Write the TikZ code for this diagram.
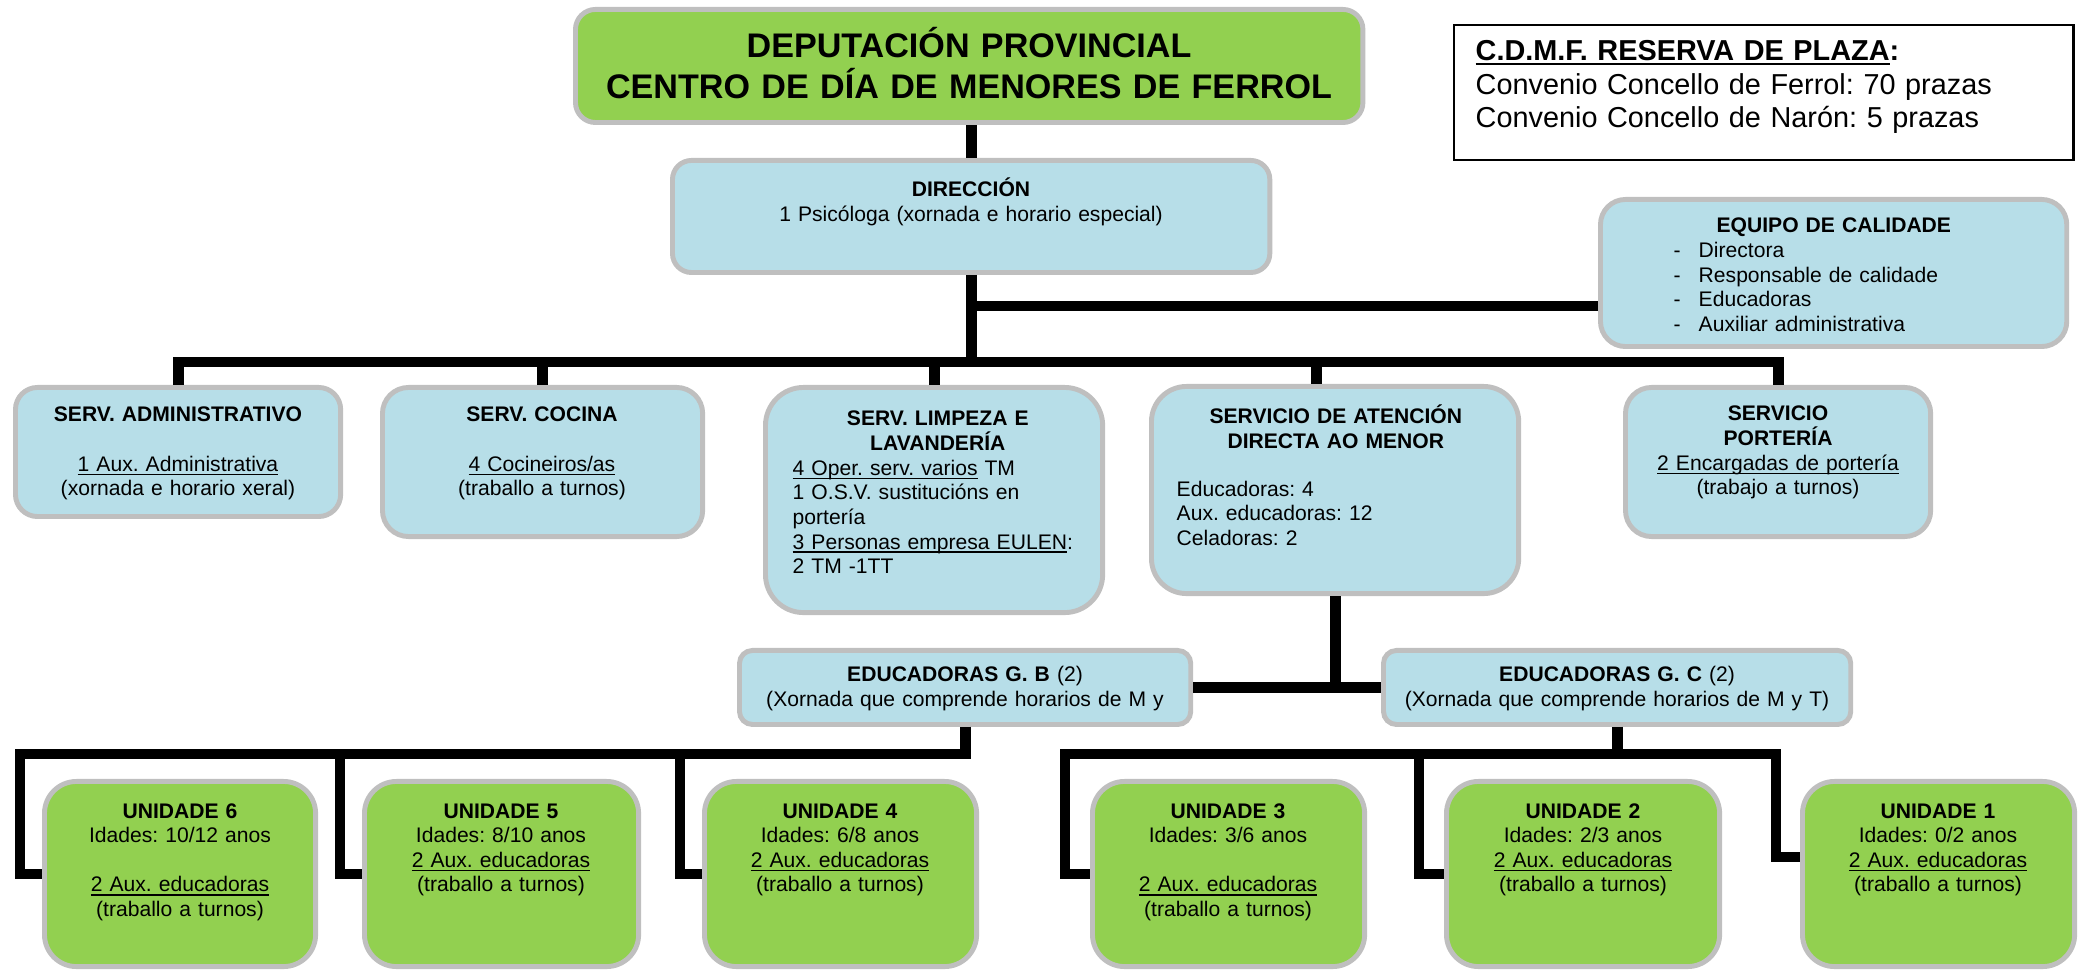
\documentclass[tikz,border=0pt]{standalone}
\usepackage{fontspec}
\setmainfont{Liberation Sans}
\frenchspacing
\newcommand\subl[1]{\leavevmode\setbox0\hbox{#1}\rlap{\rule[-1.1pt]{\wd0}{0.45pt}}\box0\relax}
\newcommand\medio[1]{\hspace*{\fill}#1\hspace*{\fill}\mbox{}}
\definecolor{cverde}{HTML}{92D050}
\definecolor{cazul}{HTML}{B7DEE8}
\definecolor{cgris}{HTML}{BFBFBF}
\begin{document}
\begin{tikzpicture}[x=0.01cm,y=-0.01cm]
\tikzstyle{caixa}=[draw=cgris,line width=1.4pt,anchor=north west,inner sep=0pt]
\tikzstyle{azul}=[caixa,fill=cazul]
\tikzstyle{verde}=[caixa,fill=cverde]
\tikzstyle{texto}=[inner sep=0pt,anchor=base,align=center,font=\fontsize{6}{7}\selectfont]
\tikzstyle{linea}=[line width=3.1pt,line join=miter]
\useasboundingbox (0,0) rectangle (2083,971);
%% caixas
\node at (573,7) (depu)[verde,minimum width=7.87cm,minimum height=1.13cm,rounded corners=0.2cm] {};
\node at (1453,24) (reserva)[caixa,draw=black,line width=0.6pt,fill=white,minimum width=6.19cm,minimum height=1.35cm] {};
\node at (670,158) (dir)[azul,minimum width=5.97cm,minimum height=1.12cm,rounded corners=0.19cm] {};
\node at (1598,197) (cal)[azul,minimum width=4.66cm,minimum height=1.47cm,rounded corners=0.25cm] {};
\node at (13,385) (adm)[azul,minimum width=3.25cm,minimum height=1.29cm,rounded corners=0.22cm] {};
\node at (380,385) (coc)[azul,minimum width=3.20cm,minimum height=1.49cm,rounded corners=0.26cm] {};
\node at (763,385) (limp)[azul,minimum width=3.37cm,minimum height=2.25cm,rounded corners=0.38cm] {};
\node at (1149,384) (aten)[azul,minimum width=3.67cm,minimum height=2.07cm,rounded corners=0.35cm] {};
\node at (1623,385) (port)[azul,minimum width=3.05cm,minimum height=1.49cm,rounded corners=0.26cm] {};
\node at (737,648) (gb)[azul,minimum width=4.51cm,minimum height=0.74cm,rounded corners=0.13cm] {};
\node at (1381,648) (gc)[azul,minimum width=4.67cm,minimum height=0.74cm,rounded corners=0.13cm] {};
\node at (42,779) (u6)[verde,minimum width=2.71cm,minimum height=1.85cm,rounded corners=0.32cm] {};
\node at (362,779) (u5)[verde,minimum width=2.74cm,minimum height=1.85cm,rounded corners=0.32cm] {};
\node at (702,779) (u4)[verde,minimum width=2.72cm,minimum height=1.85cm,rounded corners=0.32cm] {};
\node at (1090,779) (u3)[verde,minimum width=2.72cm,minimum height=1.85cm,rounded corners=0.32cm] {};
\node at (1444,779) (u2)[verde,minimum width=2.73cm,minimum height=1.85cm,rounded corners=0.32cm] {};
\node at (1800,779) (u1)[verde,minimum width=2.72cm,minimum height=1.85cm,rounded corners=0.32cm] {};
%% textos
\node at (969,58) (deput)[texto,text width=7.8cm,font=\fontsize{9.7}{11.4}\selectfont\bfseries] {DEPUTACIÓN PROVINCIAL\\CENTRO DE DÍA DE MENORES DE FERROL};
\node at (1475,61) (reservat)[texto,anchor=base west,align=left,text width=5.9cm,font=\fontsize{8.2}{9.4}\selectfont] {\textbf{\subl{C.D.M.F. RESERVA DE PLAZA}:}\\Convenio Concello de Ferrol: 70 prazas\\Convenio Concello de Narón: 5 prazas};
\node at (971,197) (dirt)[texto,text width=5.8cm] {\textbf{DIRECCIÓN}\\1 Psicóloga (xornada e horario especial)};
\node at (1673,233) (calt)[texto,anchor=base west,align=left,text width=3.2cm] {\medio{\textbf{EQUIPO DE CALIDADE}}\\\makebox[0.25cm][l]{-}Directora\\\makebox[0.25cm][l]{-}Responsable de calidade\\\makebox[0.25cm][l]{-}Educadoras\\\makebox[0.25cm][l]{-}Auxiliar administrativa};
\node at (178,422) (admt)[texto,text width=3.1cm] {\textbf{SERV. ADMINISTRATIVO}\\[7pt]\subl{1 Aux. Administrativa}\\(xornada e horario xeral)};
\node at (542,422) (coct)[texto,text width=3.0cm] {\textbf{SERV. COCINA}\\[7pt]\subl{4 Cocineiros/as}\\(traballo a turnos)};
\node at (792,426) (limpt)[texto,anchor=base west,align=left,text width=2.9cm] {\medio{\textbf{SERV. LIMPEZA E}}\\\medio{\textbf{LAVANDERÍA}}\\\subl{4 Oper. serv. varios} TM\\1 O.S.V. sustitucións en\\portería\\\subl{3 Personas empresa EULEN}:\\2 TM -1TT};
\node at (1176,424) (atent)[texto,anchor=base west,align=left,text width=3.18cm] {\medio{\textbf{SERVICIO DE ATENCIÓN}}\\\medio{\textbf{DIRECTA AO MENOR}}\\[6.5pt]Educadoras: 4\\Aux. educadoras: 12\\Celadoras: 2};
\node at (1778,421) (portt)[texto,text width=2.9cm] {\textbf{SERVICIO}\\\textbf{PORTERÍA}\\\subl{2 Encargadas de portería}\\(trabajo a turnos)};
\node at (965,682) (gbt)[texto,text width=4.4cm] {\textbf{EDUCADORAS G. B} (2)\\(Xornada que comprende horarios de M y};
\node at (1617,682) (gct)[texto,text width=4.6cm] {\textbf{EDUCADORAS G. C} (2)\\(Xornada que comprende horarios de M y T)};
\node at (180,818) (u6t)[texto,text width=2.6cm] {\textbf{UNIDADE 6}\\Idades: 10/12 anos\\[7pt]\subl{2 Aux. educadoras}\\(traballo a turnos)};
\node at (501,818) (u5t)[texto,text width=2.6cm] {\textbf{UNIDADE 5}\\Idades: 8/10 anos\\\subl{2 Aux. educadoras}\\(traballo a turnos)};
\node at (840,818) (u4t)[texto,text width=2.6cm] {\textbf{UNIDADE 4}\\Idades: 6/8 anos\\\subl{2 Aux. educadoras}\\(traballo a turnos)};
\node at (1228,818) (u3t)[texto,text width=2.6cm] {\textbf{UNIDADE 3}\\Idades: 3/6 anos\\[7pt]\subl{2 Aux. educadoras}\\(traballo a turnos)};
\node at (1583,818) (u2t)[texto,text width=2.6cm] {\textbf{UNIDADE 2}\\Idades: 2/3 anos\\\subl{2 Aux. educadoras}\\(traballo a turnos)};
\node at (1938,818) (u1t)[texto,text width=2.6cm] {\textbf{UNIDADE 1}\\Idades: 0/2 anos\\\subl{2 Aux. educadoras}\\(traballo a turnos)};
%% ligazons
\coordinate (bus) at (0,362);
\coordinate (calbus) at (0,306);
\coordinate (atenbus) at ([xshift=-0.19cm]aten.north);
\draw[linea] (dir.north) -- (dir.north |- depu.south);
\draw[linea] (dir.south) -- (dir.south |- bus);
\draw[linea] (dir.south |- calbus) -- (cal.west |- calbus);
\draw[linea] (adm.north) -- (adm.north |- bus) -- (port.north |- bus) -- (port.north);
\foreach \s in {coc,limp,atenbus} \draw[linea] (\s) -- (\s |- bus);
\draw[linea] (aten.south) -- (aten.south |- gb.east);
\draw[linea] (gb.east) -- (gc.west);
\foreach \u in {u6,u5,u4} \draw[linea] (gb.south) -- ++(0,27) -| ([xshift=-0.22cm]\u.west) -- (\u.west);
\foreach \u in {u3,u2} \draw[linea] (gc.south) -- ++(0,27) -| ([xshift=-0.25cm]\u.west) -- (\u.west);
\draw[linea] (gc.south) -- ++(0,27) -| ([xshift=-0.24cm,yshift=0.17cm]u1.west) -- ([yshift=0.17cm]u1.west);
\end{tikzpicture}
\end{document}
